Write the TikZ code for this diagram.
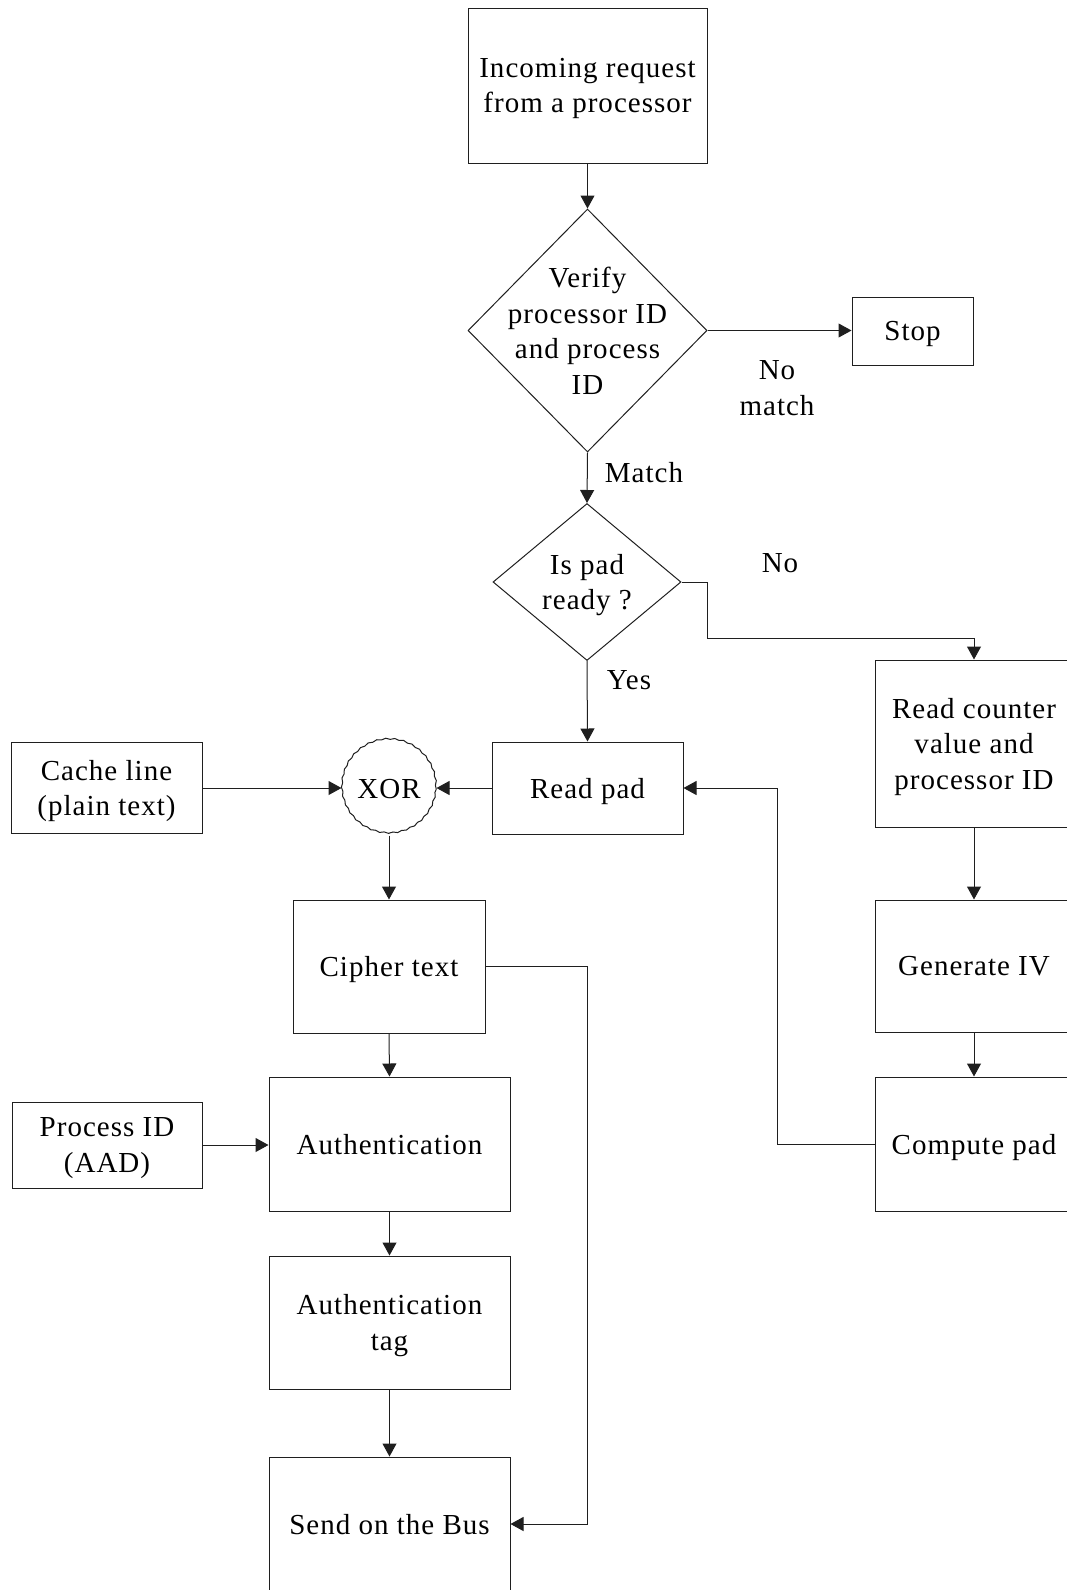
\documentclass[tikz,border=0pt]{standalone}
\usepackage{fontspec}
\setmainfont{Liberation Serif}[LetterSpace=3.5]
\usetikzlibrary{arrows.meta,shapes.geometric,decorations.pathmorphing}

\colorlet{ink}{black!88}
\tikzset{
  every node/.style={font=\fontsize{29}{35.5}\selectfont, inner sep=0pt, text=black},
  box/.style={draw=ink, rectangle, line width=1pt, align=center, text depth=0pt},
  dmd/.style={draw=ink, diamond, line width=1pt, inner sep=0pt},
  txt/.style={align=center, text depth=0pt},
  arr/.style={draw=ink, line width=1pt, -{Triangle[length=13pt,width=14pt]}},
}

\begin{document}
\begin{tikzpicture}[x=1pt, y=-1pt]
\useasboundingbox (0,0) rectangle (1067,1590);
\clip (0,0) rectangle (1067,1590);

% main column
\node[box, minimum width=239pt, minimum height=155pt] (inc) at (587.5,85.5)
  {Incoming request\\from a processor};
\node[dmd, minimum width=239pt, minimum height=243pt] (d1) at (587.5,330.5) {};
\node[txt] (d1t) at (587.5,331) {Verify\\processor ID\\and process\\ID};
\node[box, minimum width=121pt, minimum height=68pt] (stop) at (912.5,331) {Stop};
\node[dmd, minimum width=188pt, minimum height=157pt] (d2) at (587,582) {};
\node[txt] (d2t) at (587,582) {Is pad\\ready ?};
\node[box, minimum width=191pt, minimum height=92pt] (rp) at (587.5,788) {Read pad};

% encryption path
\node[draw=ink, circle, line width=1pt, minimum size=94pt,
      decorate, decoration={snake, amplitude=0.6pt, segment length=9pt}] (xor) at (389,788) {};
\node[txt] (xort) at (389,789) {XOR};
\node[box, minimum width=191pt, minimum height=91pt] (cache) at (106.5,788)
  {Cache line\\(plain text)};
\node[box, minimum width=192pt, minimum height=133pt] (cipher) at (389,966.5) {Cipher text};
\node[box, minimum width=241pt, minimum height=134pt] (auth) at (389.5,1144) {Authentication};
\node[box, minimum width=190pt, minimum height=86pt] (pid) at (107,1145) {Process ID\\(AAD)};
\node[box, minimum width=241pt, minimum height=133pt] (tag) at (389.5,1322.5) {Authentication\\tag};
\node[box, minimum width=241pt, minimum height=134pt] (send) at (389.5,1524) {Send on the Bus};

% pad generation
\node[box, minimum width=198pt, minimum height=167pt] (rc) at (974,743.5)
  {Read counter\\value and\\processor ID};
\node[box, minimum width=198pt, minimum height=132pt] (giv) at (974,966) {Generate IV};
\node[box, minimum width=198pt, minimum height=134pt] (cp) at (974,1144) {Compute pad};

% labels
\node[txt] (lnomatch) at (777,388) {No\\match};
\node[txt] (lmatch) at (644,472) {Match};
\node[txt] (lno) at (780,563) {No};
\node[txt] (lyes) at (629,680) {Yes};

% connectors
\draw[arr] (inc.south) -- (d1.north);
\draw[arr] (d1.east) -- (d1.east -| stop.west);
\draw[arr] (d1.south) -- (d2.north);
\draw[arr] (d2.east) -- ++(26,0) -- ++(0,56) -| (rc.north);
\draw[arr] (d2.south) -- (rp.north);
\draw[arr] (rp.west) -- (xor.east);
\draw[arr] (cache.east) -- (xor.west);
\draw[arr] (xor.south) -- (cipher.north);
\draw[arr] (cipher.east) -- ++(102,0) |- (send.east);
\draw[arr] (cipher.south) -- (auth.north);
\draw[arr] (pid.east) -- (pid.east -| auth.west);
\draw[arr] (auth.south) -- (tag.north);
\draw[arr] (tag.south) -- (send.north);
\draw[arr] (rc.south) -- (giv.north);
\draw[arr] (giv.south) -- (cp.north);
\draw[arr] (cp.west) -- ++(-97,0) |- (rp.east);
\end{tikzpicture}
\end{document}
